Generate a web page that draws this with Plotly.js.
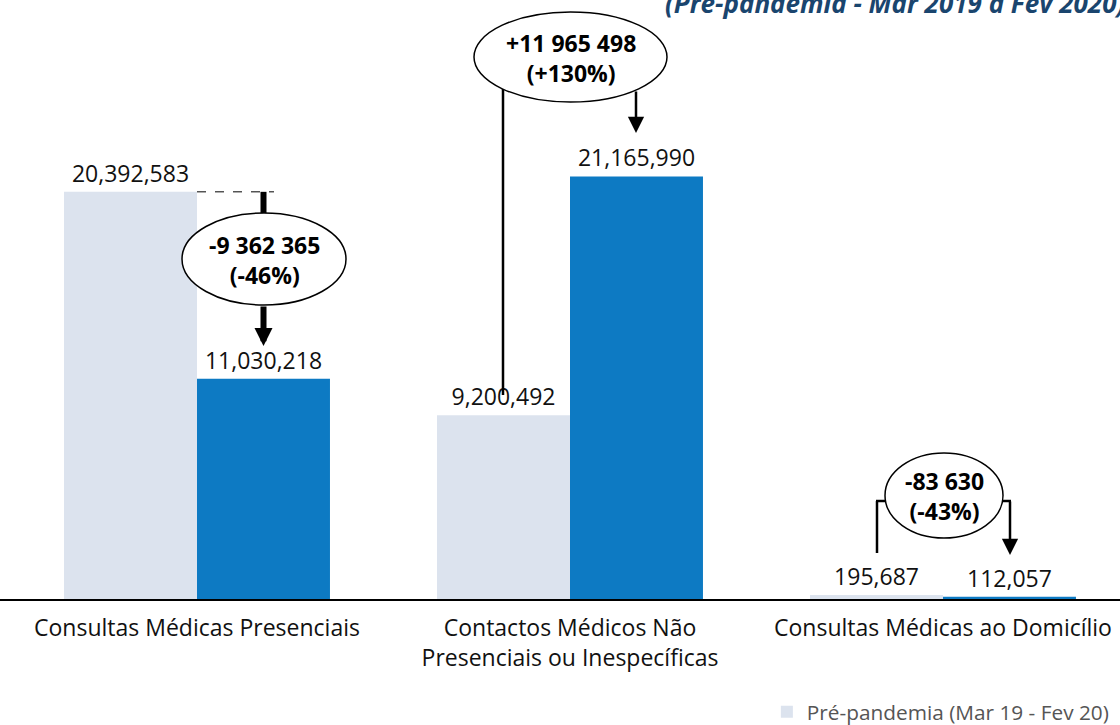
<!DOCTYPE html>
<html>
<head>
<meta charset="utf-8">
<script src="https://cdn.plot.ly/plotly-3.0.1.min.js"></script>
<style>html,body{margin:0;padding:0;background:#fff;}#chart{width:1120px;height:725px;}</style>
</head>
<body>
<div id="chart"></div>
<script>
const categories = ['Consultas Médicas Presenciais', 'Contactos Médicos Não<br>Presenciais ou Inespecíficas', 'Consultas Médicas ao Domicílio'];
const prePandemia = [20392583, 9200492, 195687];
const pandemia = [11030218, 21165990, 112057];
const seriesNames = ['Pré-pandemia (Mar 19 - Fev 20)', 'Pandemia (Mar 20 - Fev 21)'];
const diffValues = ['-9 362 365', '+11 965 498', '-83 630'];
const diffPercents = ['(-46%)', '(+130%)', '(-43%)'];
const subtitle = '(Pré-pandemia - Mar 2019 a Fev 2020)';

const W = 1120, H = 725, PLOT_H = 599, BAND = 373, FIRST = 197;
const YMAX = 30.0e6;
const X = px => (px - FIRST) / BAND;
const Y = py => (PLOT_H - py) / PLOT_H * YMAX;

const FONT = 'Open Sans, Lato, DejaVu Sans, sans-serif';
const LIGHT = '#dce3ee', DARK = '#0d7ac3';

const traces = [
  {type: 'bar', name: seriesNames[0], x: categories, y: prePandemia, marker: {color: LIGHT},
   texttemplate: '%{y:,}', textposition: 'outside', cliponaxis: false,
   textfont: {family: FONT, size: 23, color: '#111'}, hoverinfo: 'skip'},
  {type: 'bar', name: seriesNames[1], x: categories, y: pandemia, marker: {color: DARK},
   texttemplate: '%{y:,}', textposition: 'outside', cliponaxis: false,
   textfont: {family: FONT, size: 23, color: '#111'}, hoverinfo: 'skip'}
];

const blk = '#000';
const shapes = [
  {type: 'line', xref: 'x', yref: 'y', x0: 0, x1: X(274), y0: prePandemia[0], y1: prePandemia[0], line: {color: blk, width: 1, dash: 'dash'}},
  {type: 'line', xref: 'x', yref: 'y', x0: X(263.5), x1: X(263.5), y0: prePandemia[0], y1: Y(216), line: {color: blk, width: 6}},
  {type: 'circle', xref: 'x', yref: 'y', x0: X(182), x1: X(346), y0: Y(213), y1: Y(305), fillcolor: '#fff', line: {color: blk, width: 1.5}},
  {type: 'line', xref: 'x', yref: 'y', x0: X(503), x1: X(503), y0: Y(89), y1: Y(395), line: {color: blk, width: 2.5}},
  {type: 'circle', xref: 'x', yref: 'y', x0: X(474), x1: X(667), y0: Y(12), y1: Y(102), fillcolor: '#fff', line: {color: blk, width: 1.5}},
  {type: 'line', xref: 'x', yref: 'y', x0: X(877), x1: X(877), y0: Y(553), y1: Y(501), line: {color: blk, width: 2.5}},
  {type: 'line', xref: 'x', yref: 'y', x0: X(876), x1: X(887), y0: Y(501), y1: Y(501), line: {color: blk, width: 2.5}},
  {type: 'line', xref: 'x', yref: 'y', x0: X(1002), x1: X(1011), y0: Y(501), y1: Y(501), line: {color: blk, width: 2.5}},
  {type: 'circle', xref: 'x', yref: 'y', x0: X(885), x1: X(1003), y0: Y(453), y1: Y(538), fillcolor: '#fff', line: {color: blk, width: 1.5}}
];

const diffFont = {family: FONT, size: 23, color: '#000'};
const annotations = [
  {xref: 'paper', yref: 'paper', x: 1.006, y: 1, xanchor: 'right', yanchor: 'middle', yshift: -3,
   text: '<b><i>' + subtitle + '</i></b>', showarrow: false, font: {family: FONT, size: 26, color: '#1a456e'}},
  {xref: 'x', yref: 'y', x: X(264), y: Y(260), text: '<b>' + diffValues[0] + '</b><br><b>' + diffPercents[0] + '</b>', showarrow: false, font: diffFont},
  {xref: 'x', yref: 'y', x: X(570.5), y: Y(58), text: '<b>' + diffValues[1] + '</b><br><b>' + diffPercents[1] + '</b>', showarrow: false, font: diffFont},
  {xref: 'x', yref: 'y', x: X(944), y: Y(496), text: '<b>' + diffValues[2] + '</b><br><b>' + diffPercents[2] + '</b>', showarrow: false, font: diffFont},
  {xref: 'x', yref: 'y', x: X(263.5), y: Y(346), ax: 0, ay: -41, text: '', showarrow: true, arrowhead: 2, arrowwidth: 6, arrowsize: 0.6, arrowcolor: blk},
  {xref: 'x', yref: 'y', x: X(636), y: Y(133), ax: 0, ay: -43, text: '', showarrow: true, arrowhead: 2, arrowwidth: 2.5, arrowsize: 1.3, arrowcolor: blk},
  {xref: 'x', yref: 'y', x: X(1010), y: Y(555), ax: 0, ay: -55, text: '', showarrow: true, arrowhead: 2, arrowwidth: 2.5, arrowsize: 1.3, arrowcolor: blk}
];

const layout = {
  width: W, height: H,
  margin: {l: 0, r: 0, t: 0, b: H - PLOT_H, pad: 0, autoexpand: false},
  paper_bgcolor: '#fff', plot_bgcolor: '#fff',
  barmode: 'group', bargap: 0.287, bargroupgap: 0,
  showlegend: true,
  legend: {orientation: 'h', x: 0.6847, xanchor: 'left', y: -0.1547, yanchor: 'top',
           font: {family: FONT, size: 20.8, color: '#555'}, bgcolor: 'rgba(0,0,0,0)', traceorder: 'normal'},
  xaxis: {type: 'category', range: [X(0), X(W)], showline: true, linecolor: '#000', linewidth: 1.5,
          ticks: '', showgrid: false, zeroline: false, fixedrange: true, ticklabelstandoff: 8,
          tickfont: {family: FONT, size: 23, color: '#111'}},
  yaxis: {visible: false, range: [0, YMAX], showgrid: false, zeroline: false, fixedrange: true},
  shapes: shapes,
  annotations: annotations,
  font: {family: FONT}
};

Plotly.newPlot('chart', traces, layout, {displayModeBar: false, staticPlot: true});
</script>
</body>
</html>
